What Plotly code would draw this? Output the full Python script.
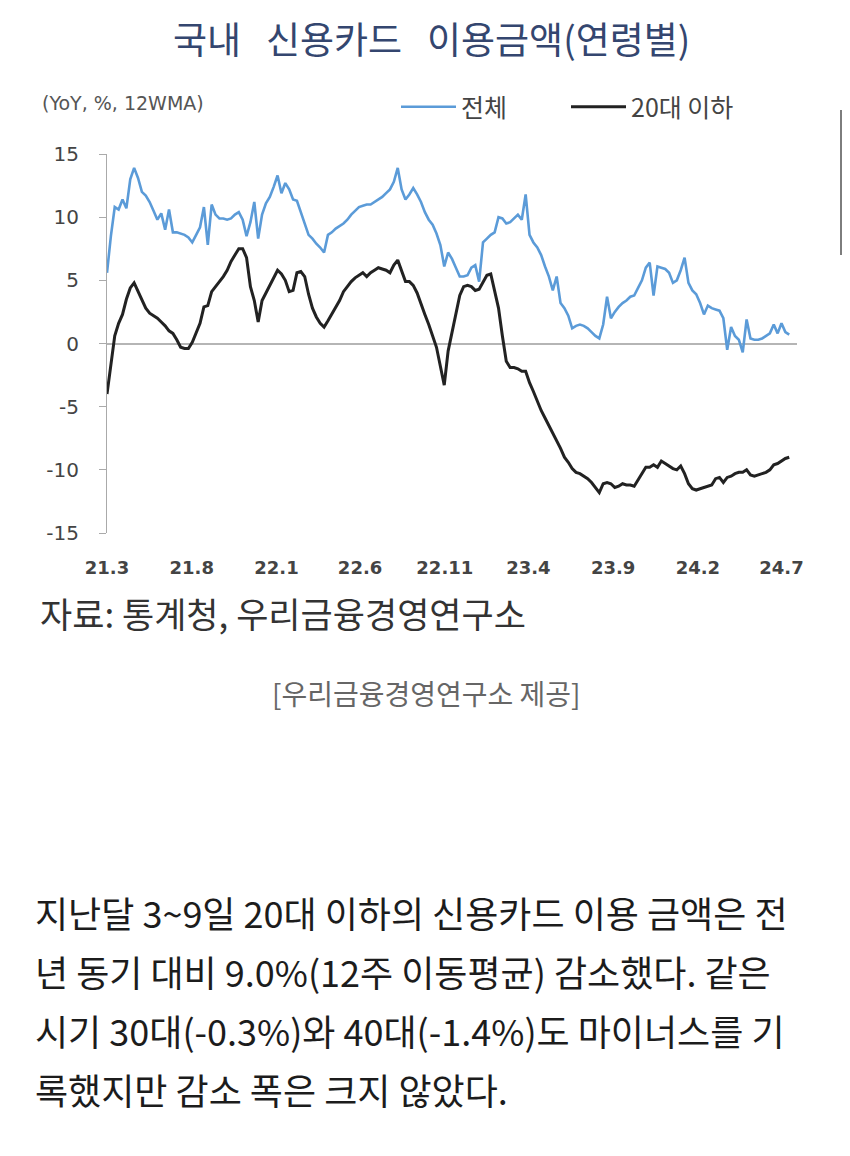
"""국내 신용카드 이용금액(연령별) — 기사 스크린샷 재현."""

import pandas as pd
import plotly.graph_objects as go

# 주간 12주 이동평균, 전년동기대비(%)
total = [
    5.6, 8.5, 10.8, 10.6, 11.4, 10.7, 13.0, 13.9, 13.1, 12.0,
    11.7, 11.2, 10.5, 9.8, 10.3, 9.0, 10.6, 8.8, 8.8, 8.7,
    8.6, 8.4, 8.0, 8.6, 9.2, 10.8, 7.8, 11.0, 10.2, 9.9,
    9.9, 9.8, 9.9, 10.2, 10.4, 9.8, 8.5, 9.6, 11.2, 8.3,
    10.2, 11.1, 11.6, 12.4, 13.3, 11.9, 12.7, 12.2, 11.4, 11.3,
    10.4, 9.6, 8.6, 8.3, 7.9, 7.6, 7.2, 8.6, 8.8, 9.1,
    9.3, 9.5, 9.8, 10.2, 10.5, 10.8, 10.9, 11.0, 11.0, 11.2,
    11.4, 11.6, 11.9, 12.2, 12.8, 13.9, 12.2, 11.4, 11.8, 12.3,
    11.8, 11.2, 10.4, 9.8, 9.4, 8.7, 7.8, 6.1, 7.2, 6.7,
    6.0, 5.3, 5.3, 5.4, 6.0, 6.2, 4.9, 8.0, 8.3, 8.6,
    8.8, 10.0, 9.9, 9.5, 9.6, 9.9, 10.2, 9.8, 11.8, 8.6,
    8.0, 7.6, 7.0, 6.1, 5.3, 4.2, 5.3, 3.2, 2.8, 2.2,
    1.2, 1.4, 1.5, 1.4, 1.2, 0.9, 0.6, 0.4, 1.5, 3.7,
    2.0, 2.5, 2.9, 3.2, 3.4, 3.7, 3.8, 4.4, 5.0, 6.0,
    6.4, 3.8, 6.1, 6.0, 5.9, 5.6, 4.8, 5.0, 5.8, 6.8,
    4.8, 4.2, 3.9, 3.2, 2.3, 3.0, 2.8, 2.7, 2.6, 2.0,
    -0.5, 1.3, 0.6, 0.3, -0.7, 1.9, 0.4, 0.3, 0.3, 0.4,
    0.6, 0.8, 1.5, 0.8, 1.6, 0.9, 0.7,
]
under20s = [
    -4.0, -1.5, 0.6, 1.6, 2.3, 3.5, 4.4, 4.8, 4.1, 3.4,
    2.8, 2.4, 2.2, 2.0, 1.7, 1.4, 1.0, 0.8, 0.3, -0.3,
    -0.4, -0.4, 0.1, 0.8, 1.6, 2.9, 3.0, 4.1, 4.5, 4.9,
    5.3, 5.8, 6.5, 7.0, 7.5, 7.5, 6.8, 4.5, 3.4, 1.7,
    3.4, 4.0, 4.6, 5.2, 5.8, 5.5, 5.0, 4.1, 4.2, 5.6,
    5.7, 5.3, 3.9, 2.8, 2.1, 1.6, 1.3, 1.8, 2.3, 2.8,
    3.4, 4.1, 4.5, 4.9, 5.2, 5.4, 5.6, 5.3, 5.6, 5.8,
    6.0, 5.9, 5.8, 5.6, 6.2, 6.6, 5.8, 4.9, 4.9, 4.6,
    4.0, 3.1, 2.3, 1.5, 0.6, -0.3, -1.8, -3.3, -0.6, 0.9,
    2.4, 3.8, 4.5, 4.6, 4.5, 4.2, 4.3, 4.9, 5.4, 5.5,
    4.2, 2.8, 0.6, -1.4, -1.9, -1.9, -2.0, -2.2, -2.2, -3.1,
    -3.8, -4.6, -5.3, -5.9, -6.5, -7.0, -7.6, -8.3, -9.0, -9.4,
    -9.9, -10.2, -10.3, -10.5, -10.7, -11.0, -11.4, -11.8, -11.1, -11.0,
    -11.1, -11.4, -11.3, -11.1, -11.2, -11.2, -11.3, -10.8, -10.2, -9.8,
    -9.8, -9.6, -9.8, -9.3, -9.5, -9.7, -9.9, -10.0, -9.7, -10.3,
    -11.1, -11.5, -11.6, -11.5, -11.4, -11.3, -11.2, -10.7, -10.6, -11.0,
    -10.6, -10.5, -10.3, -10.2, -10.2, -10.0, -10.4, -10.5, -10.4, -10.3,
    -10.2, -10.0, -9.6, -9.5, -9.3, -9.1, -9.0,
]
weeks = pd.date_range("2021-03-01", periods=len(total), freq="7D")

tick_dates = [
    "2021-03-01", "2021-08-01", "2022-01-01", "2022-06-01", "2022-11-01",
    "2023-04-01", "2023-09-01", "2024-02-01", "2024-07-01",
]
tick_labels = ["21.3", "21.8", "22.1", "22.6", "22.11", "23.4", "23.9", "24.2", "24.7"]

# 페이지 body 기본 여백(8px) 보정: 아래 좌표는 화면 기준 픽셀
PAD = 8
W, H = 850 - PAD, 1156 - PAD
L, R, T, B = 107, 797, 154, 533   # 플롯 영역 (화면 픽셀)


def px(x):
    return (x - L) / (R - L)


def py(y):
    return (B - y) / (B - T)


KR = "Noto Sans CJK KR"

fig = go.Figure()
fig.add_trace(go.Scatter(
    x=weeks, y=total, mode="lines", name="전체",
    line=dict(color="#5b9bd8", width=2.6),
))
fig.add_trace(go.Scatter(
    x=weeks, y=under20s, mode="lines", name="20대 이하",
    line=dict(color="#222222", width=3),
))


def note(x, y, text, size, color, family=KR, xanchor="center"):
    fig.add_annotation(
        x=px(x), y=py(y), xref="paper", yref="paper", showarrow=False,
        xanchor=xanchor, yanchor="middle", text=text,
        font=dict(family=family, size=size, color=color),
    )


note(431, 38, "국내\u00a0\u00a0\u00a0신용카드\u00a0\u00a0\u00a0이용금액(연령별)", 37, "#34466f")
note(40, 103, "(YoY, %, 12WMA)", 19, "#555555", family="DejaVu Sans", xanchor="left")
note(38, 612, "자료: 통계청, 우리금융경영연구소", 35, "#333333", xanchor="left")
note(426, 693, "[우리금융경영연구소 제공]", 28, "#666666")

body = [
    "지난달 3~9일 20대 이하의 신용카드 이용 금액은 전",
    "년 동기 대비 9.0%(12주 이동평균) 감소했다. 같은",
    "시기 30대(-0.3%)와 40대(-1.4%)도 마이너스를 기",
    "록했지만 감소 폭은 크지 않았다.",
]
for i, line in enumerate(body):
    note(33, 912 + 59 * i, line, 36, "#1c1c1c", xanchor="left")

# 모바일 스크롤바
fig.add_shape(
    type="line", xref="paper", yref="paper",
    x0=px(843), x1=px(843), y0=py(110), y1=py(255),
    line=dict(color="#7d7d7d", width=6),
)

fig.update_layout(
    width=W, height=H,
    margin=dict(l=L - PAD, r=W + PAD - R, t=T - PAD, b=H + PAD - B),
    paper_bgcolor="white", plot_bgcolor="white",
    showlegend=True,
    legend=dict(
        orientation="h", x=px(396), y=py(107), xanchor="left", yanchor="middle",
        font=dict(family=KR, size=25, color="#444444"),
        entrywidth=100, itemwidth=55, bgcolor="rgba(0,0,0,0)",
    ),
    xaxis=dict(
        type="date", range=["2021-03-01", "2024-07-29"],
        tickvals=tick_dates, ticktext=tick_labels,
        showgrid=False, showline=False, zeroline=False, ticks="",
        tickfont=dict(family="DejaVu Sans", size=18, color="#444444", weight="bold"),
        ticklabelstandoff=22, automargin=False,
    ),
    yaxis=dict(
        range=[-15, 15], tickvals=[-15, -10, -5, 0, 5, 10, 15],
        ticktext=["-15", "-10", "-5", "0", "5", "10", "15"],
        showgrid=False, showline=True, linecolor="#aaaaaa", linewidth=1,
        ticks="outside", ticklen=7, tickcolor="#aaaaaa",
        zeroline=True, zerolinecolor="#b5b5b5", zerolinewidth=1.5,
        tickfont=dict(family="DejaVu Sans", size=20, color="#444444"),
        ticklabelstandoff=16, automargin=False,
    ),
)

fig.write_html("out.html")
